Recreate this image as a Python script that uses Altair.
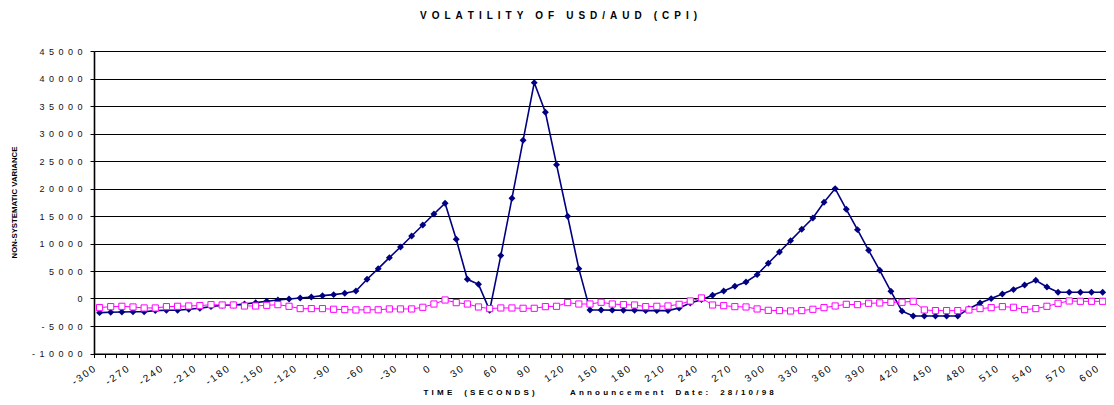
import altair as alt
import pandas as pd

# Categories: time in seconds (one category every 10 s)
times = list(range(-300, 601, 10))

# Series 1 (navy, diamonds)
navy_values = [
    -2570, -2510, -2450, -2400, -2400, -2200, -2140, -2140, -1960, -1780,
    -1480, -1240, -1180, -1000, -750, -510, -270, -90, 100, 270,
    520, 700, 940, 1370, 3500, 5430, 7430, 9370, 11370, 13370,
    15370, 17310, 10760, 3490, 2580, -2150, 7800, 18220, 28760, 39250,
    33850, 24340, 14950, 5430, -2090, -2090, -2120, -2150, -2150, -2200,
    -2200, -2200, -1720, -810, -210, 580, 1370, 2220, 3010, 4340,
    6400, 8460, 10520, 12580, 14640, 17490, 19980, 16220, 12520, 8760,
    5130, 1310, -2300, -3180, -3180, -3180, -3180, -3180, -1850, -810,
    -20, 820, 1620, 2460, 3310, 2100, 1130, 1130, 1130, 1130,
    1130,
]

# Series 2 (magenta, hollow squares)
pink_values = [
    -1660, -1480, -1420, -1540, -1720, -1720, -1480, -1420, -1360, -1300,
    -1120, -1180, -1180, -1360, -1360, -1240, -1120, -1420, -1840, -1840,
    -1840, -1960, -2020, -2080, -2050, -2050, -1900, -1900, -1900, -1600,
    -1000, -270, -750, -1000, -1540, -1840, -1720, -1720, -1780, -1780,
    -1480, -1420, -750, -1000, -1000, -690, -1000, -1120, -1180, -1480,
    -1420, -1360, -1060, -450, 100, -1180, -1300, -1480, -1540, -1900,
    -2150, -2200, -2270, -2200, -1960, -1660, -1360, -1060, -1120, -870,
    -810, -700, -690, -510, -2080, -2200, -2200, -2200, -2080, -1840,
    -1660, -1480, -1600, -2020, -1840, -1420, -870, -450, -510, -510,
    -510,
]

y_ticks = [-10000, -5000, 0, 5000, 10000, 15000, 20000, 25000, 30000, 35000, 40000, 45000]
x_label_every = 30          # one label every 3 categories
x_boundaries = [t - 5 for t in times] + [times[-1] + 5]

EN = "\u2002"
THIN = "\u2009"


def spaced(text, letter_gap, word_gap):
    return word_gap.join(letter_gap.join(list(w)) for w in text.split(" "))


title_text = spaced("VOLATILITY OF USD/AUD (CPI)", EN, EN * 2 + THIN)
x_title = (spaced("TIME (SECONDS)", THIN * 2, EN * 3)
           + EN * 8 + THIN * 2
           + spaced("Announcement Date: 28/10/98", THIN * 2, EN * 3))
y_title = "NON-SYSTEMATIC VARIANCE"

df_navy = pd.DataFrame({"time": times, "value": navy_values})
df_pink = pd.DataFrame({"time": times, "value": pink_values})

FONT = "Arial, Liberation Sans, sans-serif"

x_label_expr = ("(datum.value + 305) % " + str(x_label_every)
                + " == 0 ? join(split('' + (datum.value + 5), ''), '\u2009') : ''")

x_enc = alt.X(
    "time:Q",
    scale=alt.Scale(domain=[-305, 603], nice=False, zero=False),
    axis=alt.Axis(
        values=x_boundaries,
        labelExpr=x_label_expr,
        labelOffset=-3,
        labelAngle=-35,
        labelAlign="right",
        labelBaseline="top",
        labelPadding=6,
        labelOverlap=False,
        labelFont=FONT,
        labelFontSize=10,
        labelColor="#000",
        grid=False,
        ticks=True,
        tickSize=4,
        tickColor="#000",
        domainColor="#000",
        domainWidth=1.2,
        title=x_title,
        titleFont=FONT,
        titleFontSize=8,
        titleFontWeight="bold",
        titleColor="#000",
        titleX=329,
        titleY=38.5,
        titleAlign="left",
        titleBaseline="middle",
    ),
)

y_enc = alt.Y(
    "value:Q",
    scale=alt.Scale(domain=[-10000, 45000], nice=False, zero=False),
    axis=alt.Axis(
        values=y_ticks,
        labelExpr="join(split('' + datum.value, ''), '\u2002')",
        labelFont=FONT,
        labelFontSize=9,
        labelColor="#111",
        labelPadding=8,
        grid=True,
        gridColor="#000",
        gridWidth=1,
        ticks=True,
        tickSize=4,
        tickColor="#000",
        domainColor="#000",
        domainWidth=1.6,
        title=y_title,
        titleFont=FONT,
        titleFontSize=7.8,
        titleFontWeight="bold",
        titleColor="#000",
        titleAngle=270,
        titleX=-79.5,
        titleY=151,
        titleAlign="center",
        titleBaseline="middle",
    ),
)

navy_line = alt.Chart(df_navy).mark_line(color="#000080", strokeWidth=1.6).encode(x=x_enc, y=y_enc)
navy_pts = alt.Chart(df_navy).mark_point(
    shape="diamond", filled=True, size=48, color="#000080", opacity=1
).encode(x=x_enc, y=y_enc)
pink_line = alt.Chart(df_pink).mark_line(color="#FF00FF", strokeWidth=1).encode(x=x_enc, y=y_enc)
pink_pts = alt.Chart(df_pink).mark_square(
    size=38, fill="white", stroke="#FF00FF", strokeWidth=1, opacity=1, fillOpacity=1
).encode(x=x_enc, y=y_enc)

chart = alt.layer(navy_line, navy_pts, pink_line, pink_pts).properties(
    width=1012,
    height=302.5,
    background="white",
    autosize=alt.AutoSizeParams(type="none"),
    padding={"left": 86, "top": 43, "right": 0, "bottom": 43.5},
    title=alt.TitleParams(
        text=title_text,
        anchor="start",
        frame="group",
        dx=326,
        offset=26,
        font=FONT,
        fontSize=10,
        fontWeight="bold",
        color="#000",
    ),
).configure_view(stroke=None)

chart.save("out.html", embed_options={"renderer": "svg", "actions": False})
